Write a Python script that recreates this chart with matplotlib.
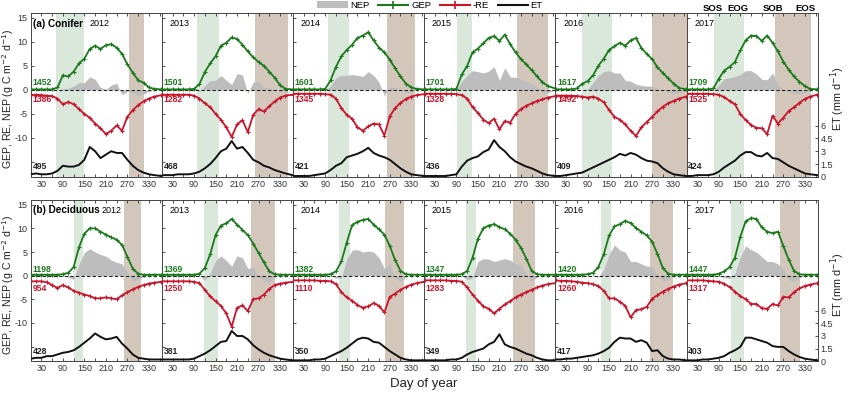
import matplotlib.pyplot as plt
from matplotlib.lines import Line2D
from matplotlib.patches import Patch

plt.rcParams["font.family"] = ["Liberation Sans", "DejaVu Sans"]

days = [1, 15, 30, 45, 60, 75, 90, 105, 120, 135, 150, 165, 180,
        195, 210, 225, 240, 255, 270, 285, 300, 315, 330, 345, 365]
years = [2012, 2013, 2014, 2015, 2016, 2017]

# ---- (a) Conifer ----
con_gep = [
    [0.1, 0.1, 0.1, 0.1, 0.1, 0.5, 3.0, 2.8, 3.8, 5.5, 6.5, 8.5, 9.2, 8.5, 9.3, 9.5, 8.8, 7.5, 5.3, 3.6, 2.0, 1.5, 0.5, 0.2, 0.1],
    [0.1, 0.1, 0.1, 0.1, 0.1, 0.1, 0.2, 1.2, 3.7, 5.5, 7.0, 9.2, 9.8, 10.9, 10.6, 9.4, 8.0, 6.8, 5.8, 5.0, 3.8, 2.5, 1.0, 0.2, 0.1],
    [0.1, 0.1, 0.1, 0.1, 0.1, 0.1, 0.2, 2.0, 4.8, 7.0, 8.3, 9.4, 10.8, 11.3, 12.0, 10.3, 8.8, 7.8, 6.3, 4.5, 2.8, 1.3, 0.5, 0.2, 0.1],
    [0.1, 0.1, 0.1, 0.1, 0.1, 0.1, 0.2, 3.2, 5.0, 7.8, 8.6, 9.7, 10.8, 11.2, 10.2, 11.5, 9.5, 7.8, 6.4, 5.3, 4.1, 2.8, 1.6, 0.8, 0.3],
    [0.1, 0.1, 0.1, 0.1, 0.3, 1.3, 1.8, 3.0, 5.0, 6.5, 8.3, 9.1, 9.8, 9.2, 10.3, 10.8, 8.7, 7.5, 6.4, 4.7, 3.5, 2.4, 1.3, 0.4, 0.1],
    [0.1, 0.1, 0.1, 0.1, 0.1, 0.3, 2.3, 4.0, 4.8, 5.8, 8.2, 10.3, 11.3, 11.2, 10.2, 11.3, 9.8, 8.0, 5.9, 4.2, 2.8, 1.7, 0.8, 0.2, 0.1],
]
con_re = [
    [-1.1, -1.0, -1.1, -1.2, -1.3, -1.8, -3.0, -2.5, -3.0, -4.0, -5.0, -5.8, -7.0, -8.0, -9.2, -8.5, -7.4, -8.5, -5.6, -4.2, -3.2, -2.4, -1.8, -1.4, -1.1],
    [-1.0, -1.0, -1.0, -1.0, -1.0, -1.0, -1.2, -1.8, -2.8, -3.6, -5.0, -6.2, -7.8, -9.8, -7.2, -6.3, -8.8, -5.2, -4.0, -4.5, -3.4, -2.4, -1.6, -1.2, -1.0],
    [-0.8, -0.8, -0.8, -0.8, -0.8, -0.8, -0.9, -1.0, -1.8, -3.8, -5.2, -6.0, -7.8, -8.5, -7.6, -7.0, -7.2, -9.5, -5.5, -3.8, -2.7, -1.9, -1.4, -1.1, -0.9],
    [-0.8, -0.8, -0.8, -0.8, -0.8, -0.8, -0.9, -1.1, -1.8, -3.6, -4.8, -6.2, -6.9, -6.0, -8.2, -6.5, -6.8, -5.0, -4.0, -3.3, -2.8, -2.3, -2.0, -1.6, -1.3],
    [-1.2, -1.2, -1.2, -1.2, -1.3, -1.4, -1.6, -1.4, -1.8, -2.6, -4.2, -5.6, -6.2, -7.2, -8.5, -9.6, -7.8, -6.7, -5.6, -4.5, -3.5, -2.8, -2.3, -1.8, -1.4],
    [-0.8, -0.8, -0.8, -0.8, -0.8, -0.9, -1.0, -1.5, -2.3, -3.0, -5.0, -6.3, -7.3, -7.9, -8.0, -9.2, -5.4, -7.0, -5.8, -4.4, -3.6, -2.7, -1.9, -1.4, -1.0],
]
con_nep = [
    [0, 0, 0, 0, 0, 0, 0.2, 0.3, 0.8, 1.5, 1.5, 2.7, 2.2, 0.5, 0.1, 1.0, 1.4, -1.0, -0.3, -0.6, -1.2, -0.9, -0.3, 0, 0],
    [0, 0, 0, 0, 0, 0, 0, -0.3, 0.9, 1.9, 2.0, 3.0, 2.0, 1.1, 3.4, 3.1, -0.8, 1.6, 1.8, 0.5, 0.4, 0.1, -0.3, 0, 0],
    [0, 0, 0, 0, 0, 0, 0, 0.8, 2.5, 3.0, 3.0, 3.2, 3.0, 2.8, 3.8, 3.0, 1.6, -1.2, 0.6, 0.5, 0.1, -0.5, -0.5, 0, 0],
    [0, 0, 0, 0, 0, 0, 0, 1.8, 3.0, 4.0, 3.8, 3.5, 3.9, 4.8, 2.0, 4.6, 2.7, 2.6, 2.2, 1.8, 1.2, 0.5, -0.4, -0.6, 0],
    [0, 0, 0, 0, 0, 0, 0.2, 1.5, 3.0, 3.8, 4.0, 3.5, 3.5, 2.0, 1.8, 1.2, 0.9, 0.8, 0.8, 0.2, 0, -0.4, -0.8, -0.5, 0],
    [0, 0, 0, 0, 0, 0, 1.0, 2.3, 2.5, 2.8, 3.2, 4.0, 4.0, 3.3, 2.2, 2.1, 3.5, 1.0, 0.1, -0.2, -0.8, -0.8, -0.6, 0, 0],
]
con_et = [
    [0.3, 0.4, 0.3, 0.3, 0.4, 0.7, 1.3, 1.2, 1.2, 1.4, 2.0, 3.5, 3.0, 2.2, 2.6, 3.0, 2.8, 2.8, 2.0, 1.3, 0.8, 0.5, 0.3, 0.2, 0.1],
    [0.2, 0.2, 0.2, 0.3, 0.3, 0.3, 0.4, 0.6, 1.0, 1.5, 2.2, 3.0, 3.3, 4.2, 3.3, 3.5, 2.8, 2.0, 1.7, 1.3, 1.1, 0.8, 0.6, 0.4, 0.2],
    [0.1, 0.1, 0.1, 0.1, 0.2, 0.3, 0.4, 0.8, 1.3, 1.6, 2.3, 2.5, 2.7, 3.0, 3.4, 2.8, 2.5, 2.3, 2.0, 1.5, 1.0, 0.6, 0.3, 0.2, 0.1],
    [0.1, 0.1, 0.1, 0.1, 0.1, 0.2, 0.3, 1.2, 1.9, 2.2, 2.4, 2.9, 3.2, 4.3, 3.5, 3.0, 2.3, 1.8, 1.5, 1.2, 1.0, 0.7, 0.4, 0.2, 0.1],
    [0.1, 0.1, 0.2, 0.3, 0.4, 0.5, 0.8, 1.1, 1.4, 1.7, 2.0, 2.3, 2.7, 2.5, 2.8, 2.6, 2.2, 1.9, 1.8, 1.6, 1.0, 0.6, 0.3, 0.2, 0.1],
    [0.1, 0.1, 0.2, 0.2, 0.2, 0.3, 0.6, 1.1, 1.5, 1.9, 2.5, 2.9, 2.9, 2.5, 2.4, 2.8, 2.2, 2.1, 1.7, 1.3, 1.0, 0.7, 0.4, 0.3, 0.2],
]
con_sos = [72, 97, 97, 92, 75, 78]
con_eog = [148, 159, 156, 134, 159, 159]
con_sob = [275, 260, 262, 259, 270, 248]
con_eos = [317, 352, 340, 345, 366, 348]
con_gep_tot = [1452, 1501, 1601, 1701, 1617, 1709]
con_re_tot = [1386, 1282, 1345, 1328, 1492, 1525]
con_et_tot = [495, 468, 421, 436, 409, 424]

# ---- (b) Deciduous ----
dec_gep = [
    [0.2, 0.2, 0.2, 0.2, 0.2, 0.2, 0.3, 0.6, 1.8, 6.0, 8.9, 10.0, 10.0, 9.3, 8.7, 8.1, 7.6, 6.5, 4.0, 1.5, 0.4, 0.2, 0.2, 0.2, 0.2],
    [0.2, 0.2, 0.2, 0.2, 0.2, 0.2, 0.2, 0.4, 1.6, 4.5, 8.6, 10.6, 11.1, 12.0, 10.8, 9.7, 8.6, 6.8, 4.8, 2.8, 0.9, 0.3, 0.2, 0.2, 0.2],
    [0.2, 0.2, 0.2, 0.2, 0.2, 0.2, 0.2, 0.3, 0.9, 3.0, 7.0, 10.7, 11.4, 11.8, 12.0, 10.8, 9.8, 8.7, 6.3, 3.3, 1.0, 0.3, 0.2, 0.2, 0.2],
    [0.2, 0.2, 0.2, 0.2, 0.2, 0.2, 0.2, 0.3, 1.0, 3.8, 7.8, 10.0, 10.6, 10.9, 10.3, 9.8, 8.9, 7.6, 5.9, 3.6, 1.0, 0.3, 0.2, 0.2, 0.2],
    [0.2, 0.2, 0.2, 0.2, 0.2, 0.2, 0.3, 0.6, 1.8, 4.5, 8.5, 10.4, 10.9, 11.6, 11.1, 10.1, 9.3, 8.5, 7.2, 4.6, 1.6, 0.4, 0.2, 0.2, 0.2],
    [0.2, 0.2, 0.2, 0.2, 0.2, 0.2, 0.4, 0.9, 1.8, 3.8, 8.2, 11.5, 12.2, 12.0, 10.2, 9.3, 9.0, 9.3, 6.3, 3.4, 1.0, 0.3, 0.2, 0.2, 0.2],
]
dec_re = [
    [-1.2, -1.2, -1.2, -1.4, -2.0, -2.6, -2.0, -2.5, -3.2, -3.6, -4.0, -4.3, -4.8, -4.8, -4.6, -4.8, -5.0, -4.2, -3.5, -2.9, -2.4, -2.0, -1.7, -1.5, -1.3],
    [-1.2, -1.2, -1.2, -1.2, -1.2, -1.2, -1.3, -1.6, -3.0, -4.4, -5.4, -6.4, -8.0, -10.8, -6.8, -6.3, -7.5, -5.0, -4.8, -4.0, -2.8, -2.0, -1.7, -1.5, -1.3],
    [-1.0, -1.0, -1.0, -1.0, -1.0, -1.1, -1.1, -1.2, -1.8, -3.5, -4.6, -5.3, -6.2, -6.8, -6.5, -5.8, -6.4, -7.8, -4.5, -3.8, -3.0, -2.4, -1.9, -1.6, -1.3],
    [-1.0, -1.0, -1.0, -1.0, -1.0, -1.1, -1.1, -1.3, -2.5, -4.0, -5.3, -6.5, -7.0, -8.0, -7.0, -6.1, -5.4, -4.6, -4.0, -3.5, -3.0, -2.5, -2.1, -1.8, -1.6],
    [-1.0, -1.1, -1.1, -1.2, -1.3, -1.5, -1.6, -1.8, -2.2, -3.2, -4.8, -4.8, -5.5, -6.4, -8.8, -7.3, -7.1, -6.6, -4.9, -4.1, -3.4, -2.8, -2.3, -1.9, -1.6],
    [-1.0, -1.0, -1.0, -1.0, -1.1, -1.2, -1.3, -1.7, -2.4, -3.4, -4.3, -5.0, -6.0, -6.0, -6.9, -7.0, -6.0, -6.3, -4.5, -4.6, -3.5, -2.7, -2.2, -1.9, -1.6],
]
dec_nep = [
    [0, 0, 0, 0, 0, 0, 0, -0.3, -0.8, 2.4, 4.9, 5.7, 5.0, 4.5, 4.1, 3.3, 2.8, 2.5, 0.8, -1.2, -0.8, -0.2, 0, 0, 0],
    [0, 0, 0, 0, 0, 0, 0, 0, -1.0, 0.5, 3.2, 4.2, 3.2, 2.0, 4.2, 3.8, 1.5, 1.8, 0, -1.2, -1.5, -0.3, 0, 0, 0],
    [0, 0, 0, 0, 0, 0, 0, 0, -0.5, -0.5, 3.5, 5.4, 5.5, 5.0, 5.2, 5.0, 3.8, 1.5, 2.5, -0.5, -1.2, -0.3, 0, 0, 0],
    [0, 0, 0, 0, 0, 0, 0, 0, -0.8, -0.5, 3.0, 3.6, 3.5, 3.0, 3.3, 3.6, 3.3, 2.5, 2.2, 0.2, -1.2, -0.3, 0, 0, 0],
    [0, 0, 0, 0, 0, 0, 0, 0, -0.4, 1.3, 4.5, 6.5, 5.4, 5.0, 3.0, 3.0, 2.5, 2.0, 2.0, 0.3, -1.2, -0.8, 0, 0, 0],
    [0, 0, 0, 0, 0, 0, 0, -0.4, -0.6, 0.4, 3.9, 6.3, 5.5, 5.0, 4.0, 3.0, 3.0, 2.5, 1.5, -0.8, -1.2, -0.4, 0, 0, 0],
]
dec_et = [
    [0.3, 0.4, 0.4, 0.6, 0.6, 0.8, 1.0, 1.1, 1.3, 1.7, 2.2, 2.7, 3.3, 2.9, 2.6, 2.7, 2.9, 2.1, 1.5, 0.8, 0.4, 0.3, 0.2, 0.2, 0.2],
    [0.2, 0.2, 0.2, 0.2, 0.2, 0.2, 0.3, 0.6, 0.9, 1.3, 1.8, 2.3, 2.4, 3.6, 3.0, 3.0, 2.6, 1.9, 1.4, 1.0, 0.7, 0.5, 0.3, 0.2, 0.1],
    [0.1, 0.1, 0.1, 0.1, 0.2, 0.2, 0.3, 0.6, 0.9, 1.2, 1.6, 2.1, 2.6, 2.8, 2.7, 2.3, 2.2, 1.7, 1.2, 0.8, 0.4, 0.2, 0.1, 0.1, 0.1],
    [0.1, 0.1, 0.1, 0.1, 0.1, 0.2, 0.2, 0.4, 0.8, 1.1, 1.3, 1.5, 2.0, 2.3, 3.2, 2.0, 1.7, 1.5, 1.2, 0.9, 0.7, 0.4, 0.2, 0.1, 0.1],
    [0.2, 0.2, 0.3, 0.3, 0.4, 0.5, 0.6, 0.7, 0.9, 1.2, 1.6, 2.3, 2.8, 2.7, 2.7, 2.3, 2.5, 2.2, 1.2, 1.3, 0.6, 0.3, 0.2, 0.2, 0.1],
    [0.1, 0.1, 0.1, 0.2, 0.2, 0.3, 0.4, 0.6, 1.0, 1.3, 1.7, 2.8, 2.8, 2.6, 2.4, 2.2, 1.8, 1.7, 1.7, 1.2, 0.8, 0.5, 0.3, 0.2, 0.1],
]
dec_sos = [122, 117, 128, 117, 128, 125]
dec_eog = [147, 156, 159, 145, 156, 159]
dec_sob = [260, 250, 256, 248, 265, 262]
dec_eos = [307, 315, 309, 309, 329, 318]
dec_gep_tot = [1198, 1369, 1382, 1347, 1420, 1447]
dec_re_tot = [954, 1250, 1110, 1283, 1260, 1317]
dec_et_tot = [428, 381, 350, 349, 417, 403]

c_gep = "#1b7a1b"
c_re = "#c8162c"
c_nep = "#bdbdbd"
c_grow = "#dae8dc"
c_sen = "#d3c7bc"
tick_fs = 6.5

fig = plt.figure(figsize=(8.5, 3.93), dpi=100)
x0, x1 = 0.036, 0.962
w = (x1 - x0) / 6

rows = [
    dict(bottom=0.550, height=0.417, title="(a) Conifer", year_x=165, gep=con_gep, re=con_re,
         nep=con_nep, et=con_et, sos=con_sos, eog=con_eog, sob=con_sob, eos=con_eos,
         gt=con_gep_tot, rt=con_re_tot, et_t=con_et_tot, gy=1.6, ry=-2.1),
    dict(bottom=0.081, height=0.410, title="(b) Deciduous", year_x=198, gep=dec_gep, re=dec_re,
         nep=dec_nep, et=dec_et, sos=dec_sos, eog=dec_eog, sob=dec_sob, eos=dec_eos,
         gt=dec_gep_tot, rt=dec_re_tot, et_t=dec_et_tot, gy=1.4, ry=-2.8),
]

for r in rows:
    for i, yr in enumerate(years):
        ax = fig.add_axes([x0 + i * w, r["bottom"], w, r["height"]])
        ax.axvspan(r["sos"][i], r["eog"][i], color=c_grow, lw=0, zorder=0)
        ax.axvspan(r["sob"][i], r["eos"][i], color=c_sen, lw=0, zorder=0)
        ax.fill_between(days, 0, r["nep"][i], color=c_nep, lw=0, zorder=1)
        ax.axhline(0, color="#222222", ls=(0, (3, 2)), lw=0.8, zorder=2)
        ax.plot(days, r["gep"][i], color=c_gep, lw=1.3, marker="+", ms=3.5, mew=0.8, zorder=3)
        ax.plot(days, r["re"][i], color=c_re, lw=1.3, marker="+", ms=3.5, mew=0.8, zorder=3)
        ax.set_xlim(0, 366)
        ax.set_ylim(-18.1, 16)
        ax.set_xticks(range(30, 331, 60))
        ax.set_xticks(range(60, 361, 60), minor=True)
        ax.set_yticks([-15, -10, -5, 0, 5, 10, 15])
        ax.tick_params(which="both", direction="in", top=True, right=True, length=2.5,
                       width=0.6, labelsize=tick_fs, pad=2, colors="#333333")
        if i == 0:
            ax.set_yticklabels(["", "-10", "-5", "0", "5", "10", "15"])
            ax.text(7, 13.8, r["title"], fontsize=7.2, fontweight="bold", va="center")
            ax.text(r["year_x"], 13.8, str(yr), fontsize=6.5, va="center")
        else:
            ax.set_yticklabels([])
            ax.text(22, 13.8, str(yr), fontsize=6.5, va="center")
        for s in ax.spines.values():
            s.set_linewidth(0.7)
            s.set_color("#444444")
        ax.text(5, r["gy"], str(r["gt"][i]), color=c_gep, fontsize=6.2, fontweight="bold", va="center")
        ax.text(5, r["ry"], str(r["rt"][i]), color=c_re, fontsize=6.2, fontweight="bold", va="center")
        ax.text(5, -16.0, str(r["et_t"][i]), color="#222222", fontsize=6.2, fontweight="bold", va="center")

        ax2 = ax.twinx()
        ax2.plot(days, r["et"][i], color="#111111", lw=1.4)
        ax2.set_ylim(0, 19.2)
        if i == 5:
            ax2.set_yticks([0, 1.5, 3, 4.5, 6])
            ax2.set_yticklabels(["0", "1.5", "3", "4.5", "6"])
            ax2.tick_params(direction="in", length=2.5, width=0.6, labelsize=tick_fs, pad=2,
                            colors="#333333")
        else:
            ax2.set_yticks([])
        for s in ax2.spines.values():
            s.set_visible(False)

    ymid = r["bottom"] + r["height"] / 2 - 0.01
    fig.text(0.0095, ymid, "GEP, RE, NEP (g C m$^{-2}$ d$^{-1}$)", rotation=90,
             ha="center", va="center", fontsize=7.6, color="#222222")
    fig.text(0.985, ymid, "ET (mm d$^{-1}$)", rotation=90, ha="center", va="center",
             fontsize=7.8, color="#222222")

fig.text(0.498, 0.022, "Day of year", ha="center", va="center", fontsize=9.5, color="#222222")

for lab, xp in zip(["SOS", "EOG", "SOB", "EOS"], [0.838, 0.868, 0.909, 0.948]):
    fig.text(xp, 0.978, lab, ha="center", va="center", fontsize=6.8, fontweight="bold")

handles = [
    Patch(facecolor=c_nep, edgecolor="none"),
    Line2D([], [], color=c_gep, lw=1.5, marker="+", ms=6, mew=1.2),
    Line2D([], [], color=c_re, lw=1.5, marker="+", ms=6, mew=1.2),
    Line2D([], [], color="#111111", lw=1.5),
]
fig.legend(handles, ["NEP", "GEP", "-RE", "ET"], loc="upper center", ncol=4,
           bbox_to_anchor=(0.506, 1.012), frameon=False, fontsize=6.8, handlelength=3.2,
           handletextpad=0.3, columnspacing=0.9, borderpad=0.1)

fig.savefig("out.png", dpi=100)
